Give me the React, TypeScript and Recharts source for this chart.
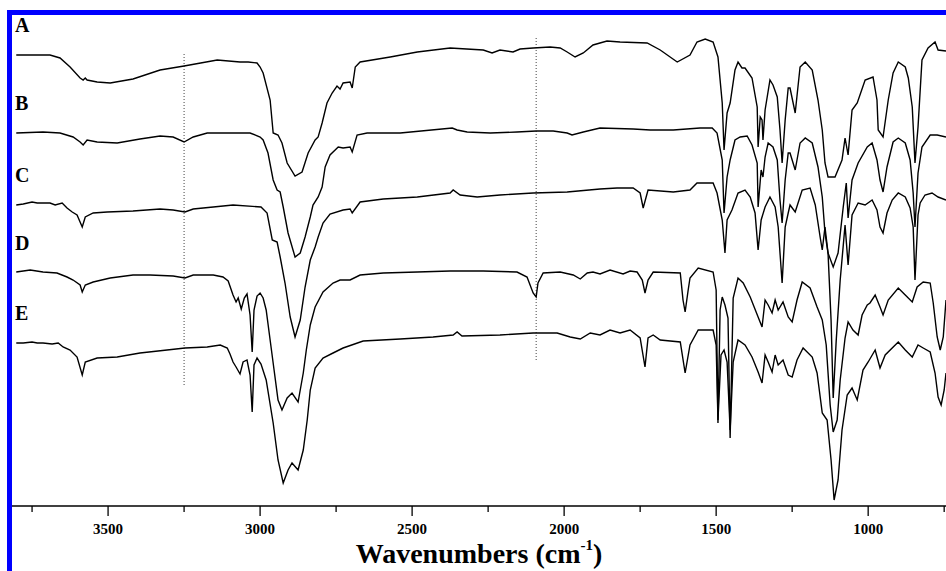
import React from "react";
import { LineChart, Line, XAxis, YAxis, ReferenceLine } from "recharts";

// FTIR spectra, stacked (offset transmittance, arbitrary units)
// each point: [wavenumber cm-1, offset transmittance]
const traceA: [number, number][] = [
  [3802, 451], [3691, 451], [3658, 448], [3625, 439], [3592, 428], [3582, 426], [3575, 428], [3569, 426],
  [3536, 424], [3493, 423], [3418, 427], [3329, 436], [3250, 440], [3141, 446], [3066, 444], [3039, 444],
  [3010, 443], [3000, 439], [2990, 433], [2967, 406], [2957, 373], [2941, 371], [2928, 363], [2911, 343],
  [2885, 330], [2862, 334], [2842, 353], [2819, 366], [2809, 369], [2796, 383], [2780, 403], [2763, 413],
  [2747, 420], [2737, 417], [2727, 423], [2704, 424], [2697, 418], [2687, 439], [2671, 444], [2572, 449],
  [2483, 454], [2375, 458], [2266, 456], [2237, 453], [2211, 456], [2168, 454], [2145, 457], [2102, 458],
  [2046, 459], [2013, 458], [1990, 454], [1964, 449], [1937, 453], [1905, 461], [1859, 465], [1816, 464],
  [1727, 463], [1684, 456], [1628, 444], [1586, 451], [1563, 464], [1536, 467], [1510, 464], [1494, 449],
  [1480, 403], [1474, 356], [1464, 393], [1454, 403], [1438, 436], [1428, 444], [1415, 438], [1405, 438],
  [1382, 428], [1365, 399], [1362, 359], [1355, 389], [1349, 386], [1346, 366], [1339, 396], [1323, 426],
  [1313, 421], [1299, 409], [1290, 376], [1283, 343], [1273, 386], [1263, 418], [1257, 418], [1240, 393],
  [1224, 439], [1207, 444], [1184, 436], [1165, 406], [1151, 376], [1142, 343], [1132, 329], [1109, 329],
  [1086, 346], [1076, 368], [1066, 351], [1053, 396], [1036, 403], [1010, 426], [984, 429], [971, 406],
  [967, 376], [951, 369], [934, 406], [918, 433], [901, 444], [878, 439], [868, 428], [855, 399],
  [846, 343], [836, 379], [823, 446], [803, 458], [780, 464], [770, 456], [744, 455],
];

const traceB: [number, number][] = [
  [3802, 373], [3714, 374], [3658, 373], [3615, 369], [3592, 364], [3582, 361], [3569, 366], [3536, 364],
  [3470, 363], [3395, 367], [3329, 370], [3286, 369], [3250, 364], [3220, 369], [3174, 373], [3033, 373],
  [3000, 369], [2990, 366], [2974, 353], [2957, 326], [2944, 316], [2934, 314], [2924, 299], [2908, 273],
  [2885, 249], [2868, 253], [2852, 269], [2835, 289], [2826, 301], [2809, 309], [2796, 319], [2786, 339],
  [2770, 351], [2743, 359], [2727, 358], [2704, 359], [2697, 354], [2681, 371], [2648, 373], [2539, 373],
  [2368, 378], [2352, 376], [2319, 374], [2243, 373], [2155, 374], [2092, 375], [2036, 375], [1990, 373],
  [1974, 371], [1937, 374], [1882, 378], [1773, 377], [1717, 376], [1641, 376], [1553, 378], [1513, 378],
  [1497, 373], [1480, 346], [1474, 293], [1464, 329], [1454, 346], [1438, 366], [1421, 369], [1398, 370],
  [1382, 361], [1365, 343], [1362, 299], [1352, 336], [1346, 329], [1339, 349], [1329, 363], [1313, 359],
  [1299, 346], [1290, 306], [1283, 283], [1273, 326], [1263, 353], [1257, 353], [1240, 336], [1224, 363],
  [1207, 368], [1184, 363], [1165, 339], [1151, 309], [1142, 273], [1132, 253], [1115, 239], [1099, 253],
  [1082, 299], [1072, 323], [1066, 288], [1053, 326], [1033, 343], [1003, 359], [987, 363], [971, 346],
  [961, 326], [951, 314], [938, 339], [918, 364], [901, 368], [878, 363], [862, 346], [852, 313],
  [846, 279], [836, 333], [823, 359], [796, 371], [773, 371], [744, 369],
];

const traceC: [number, number][] = [
  [3802, 301], [3779, 302], [3750, 304], [3733, 303], [3714, 303], [3691, 303], [3674, 301], [3651, 303],
  [3635, 298], [3618, 294], [3602, 291], [3585, 279], [3575, 289], [3549, 293], [3503, 294], [3418, 295],
  [3329, 297], [3286, 296], [3247, 294], [3220, 297], [3154, 299], [3089, 301], [2997, 299], [2977, 293],
  [2960, 266], [2944, 264], [2934, 249], [2918, 223], [2901, 189], [2885, 169], [2868, 186], [2852, 219],
  [2835, 246], [2819, 259], [2809, 269], [2793, 283], [2770, 292], [2727, 296], [2704, 297], [2697, 293],
  [2671, 304], [2595, 307], [2483, 309], [2375, 313], [2365, 316], [2342, 311], [2286, 309], [2211, 311],
  [2102, 313], [1990, 314], [1882, 317], [1826, 318], [1773, 318], [1750, 313], [1740, 298], [1724, 316],
  [1641, 314], [1586, 316], [1563, 323], [1510, 323], [1497, 313], [1480, 286], [1471, 253], [1464, 286],
  [1448, 296], [1428, 313], [1405, 316], [1388, 309], [1372, 293], [1362, 256], [1352, 286], [1339, 299],
  [1323, 309], [1306, 299], [1296, 279], [1283, 223], [1273, 279], [1263, 293], [1257, 301], [1240, 294],
  [1217, 316], [1191, 318], [1174, 301], [1158, 269], [1151, 256], [1142, 279], [1132, 253], [1122, 186],
  [1115, 108], [1105, 166], [1092, 226], [1076, 281], [1066, 241], [1053, 291], [1033, 303], [1010, 301],
  [987, 306], [971, 296], [961, 279], [951, 273], [938, 293], [921, 306], [901, 313], [878, 309],
  [862, 298], [852, 279], [846, 226], [836, 291], [829, 303], [813, 311], [790, 313], [770, 309], [744, 306],
];

const traceD: [number, number][] = [
  [3802, 234], [3756, 236], [3714, 234], [3668, 233], [3635, 229], [3615, 226], [3592, 221], [3585, 214],
  [3575, 221], [3549, 224], [3493, 228], [3418, 231], [3362, 231], [3286, 230], [3247, 228], [3220, 231],
  [3154, 231], [3122, 229], [3105, 225], [3089, 211], [3079, 204], [3072, 208], [3062, 197], [3052, 208],
  [3043, 212], [3033, 191], [3026, 154], [3020, 196], [3010, 210], [3000, 213], [2990, 208], [2980, 196],
  [2967, 166], [2954, 136], [2941, 106], [2928, 96], [2911, 108], [2895, 113], [2875, 104], [2858, 133],
  [2848, 156], [2835, 181], [2819, 199], [2793, 214], [2760, 223], [2737, 226], [2704, 226], [2671, 231],
  [2595, 233], [2483, 234], [2375, 235], [2266, 235], [2155, 234], [2122, 229], [2102, 213], [2092, 209],
  [2086, 223], [2069, 233], [2013, 234], [1970, 231], [1947, 227], [1924, 233], [1905, 234], [1882, 232],
  [1849, 236], [1806, 232], [1783, 235], [1760, 234], [1743, 226], [1734, 213], [1724, 226], [1707, 234],
  [1618, 233], [1609, 206], [1602, 194], [1592, 216], [1586, 228], [1559, 238], [1510, 234], [1500, 216],
  [1494, 83], [1487, 196], [1480, 209], [1471, 201], [1461, 188], [1454, 68], [1444, 208], [1428, 228],
  [1411, 223], [1388, 209], [1362, 189], [1349, 179], [1339, 206], [1329, 201], [1316, 193], [1306, 206],
  [1296, 196], [1280, 204], [1263, 189], [1250, 184], [1234, 206], [1217, 224], [1191, 218], [1168, 199],
  [1151, 186], [1138, 161], [1125, 101], [1115, 74], [1102, 86], [1092, 126], [1076, 168], [1066, 184],
  [1050, 176], [1033, 171], [1020, 191], [1003, 201], [994, 203], [977, 211], [961, 199], [951, 191],
  [934, 206], [901, 218], [878, 211], [855, 204], [839, 219], [819, 224], [796, 223], [786, 203],
  [773, 169], [763, 156], [753, 169], [744, 206],
];

const traceE: [number, number][] = [
  [3802, 163], [3779, 163], [3750, 164], [3733, 163], [3714, 163], [3684, 162], [3664, 163], [3648, 159],
  [3625, 156], [3602, 149], [3585, 131], [3575, 144], [3536, 148], [3470, 149], [3395, 153], [3306, 156],
  [3247, 158], [3174, 159], [3131, 161], [3108, 158], [3099, 152], [3089, 144], [3079, 139], [3066, 132],
  [3056, 144], [3043, 146], [3033, 131], [3026, 94], [3020, 141], [3010, 148], [2997, 142], [2980, 126],
  [2957, 83], [2941, 46], [2924, 23], [2908, 36], [2895, 43], [2875, 36], [2858, 56], [2845, 86],
  [2835, 116], [2819, 138], [2793, 148], [2760, 153], [2727, 158], [2661, 165], [2539, 167], [2431, 169],
  [2365, 171], [2352, 174], [2336, 170], [2211, 171], [2102, 173], [2023, 173], [1980, 169], [1947, 167],
  [1914, 173], [1882, 171], [1849, 176], [1816, 173], [1783, 176], [1750, 168], [1734, 139], [1724, 168],
  [1707, 171], [1684, 166], [1618, 164], [1602, 133], [1586, 161], [1559, 176], [1510, 176], [1500, 161],
  [1494, 86], [1484, 151], [1474, 156], [1464, 144], [1454, 76], [1444, 144], [1428, 166], [1405, 161],
  [1382, 149], [1362, 134], [1349, 123], [1339, 151], [1329, 144], [1316, 134], [1306, 151], [1296, 141],
  [1280, 146], [1263, 131], [1250, 129], [1234, 146], [1214, 158], [1184, 149], [1168, 133], [1151, 93],
  [1135, 86], [1122, 46], [1112, 6], [1099, 26], [1086, 76], [1069, 111], [1053, 118], [1036, 106],
  [1017, 136], [1000, 144], [977, 156], [961, 138], [944, 151], [901, 164], [878, 156], [855, 149],
  [836, 161], [819, 158], [796, 154], [780, 133], [770, 109], [760, 101], [750, 116], [744, 133],
];

const SERIES_NAMES = ["A", "B", "C", "D", "E"];
const SERIES = [traceA, traceB, traceC, traceD, traceE];
const LABEL_TOP = [15, 93, 165, 233, 303];

const TICKS = [3750, 3500, 3250, 3000, 2750, 2500, 2250, 2000, 1750, 1500, 1250, 1000, 750];
const MAJOR_TICKS = [3500, 3000, 2500, 2000, 1500, 1000];

// dotted guide lines: [wavenumber, from, to]
const GUIDES: [number, number, number][] = [
  [3250, 121, 454],
  [2092, 146, 469],
];

const FONT = '"Liberation Serif", "Times New Roman", serif';

function WaveTick(props: any) {
  const { x, y, payload } = props;
  const major = MAJOR_TICKS.includes(payload.value);
  return (
    <g>
      <line x1={x} x2={x} y1={y} y2={y + (major ? 10 : 6)} stroke="#000" strokeWidth={1.3} />
      {major && (
        <text x={x} y={y + 28} textAnchor="middle" fontFamily={FONT} fontWeight="bold" fontSize={15} fill="#000">
          {payload.value}
        </text>
      )}
    </g>
  );
}

function AxisTitle(props: any) {
  const vb = props.viewBox || { x: 12, y: 506, width: 934 };
  const cx = vb.x + vb.width / 2;
  return (
    <text x={cx} y={vb.y + 57} textAnchor="middle" fontFamily={FONT} fontWeight="bold" fontSize={28} fill="#000">
      Wavenumbers (cm
      <tspan fontSize={15} dy={-13}>-1</tspan>
      <tspan dy={13}>)</tspan>
    </text>
  );
}

export default function App() {
  return (
    <div style={{ position: "absolute", left: 0, top: 0, width: 946, height: 571, background: "#fff", overflow: "hidden" }}>
      <div
        style={{
          position: "absolute",
          left: 7,
          top: 10,
          width: 960,
          height: 600,
          borderLeft: "5px solid #0000ff",
          borderTop: "5px solid #0000ff",
          boxSizing: "border-box",
        }}
      />
      <div style={{ position: "absolute", left: 0, top: 0 }}>
        <LineChart width={946} height={571} margin={{ top: 15, right: 0, left: 12, bottom: 0 }}>
          <XAxis
            type="number"
            dataKey="w"
            domain={[744, 3816]}
            reversed
            allowDataOverflow
            ticks={TICKS}
            interval={0}
            height={65}
            tickSize={0}
            tickMargin={0}
            tickLine={false}
            tick={<WaveTick />}
            axisLine={{ stroke: "#000", strokeWidth: 1.3 }}
            label={{ content: AxisTitle }}
          />
          <YAxis type="number" domain={[0, 491]} hide allowDataOverflow />
          {GUIDES.map(([w, y1, y2]) => (
            <ReferenceLine
              key={w}
              segment={[{ x: w, y: y1 }, { x: w, y: y2 }]}
              stroke="#444"
              strokeWidth={1}
              strokeDasharray="1 2"
            />
          ))}
          {SERIES.map((trace, i) => (
            <Line
              key={SERIES_NAMES[i]}
              data={trace.map(([w, v]) => ({ w, v }))}
              dataKey="v"
              type="linear"
              stroke="#000"
              strokeWidth={1.4}
              dot={false}
              isAnimationActive={false}
            />
          ))}
        </LineChart>
      </div>
      {SERIES_NAMES.map((name, i) => (
        <div
          key={name}
          style={{
            position: "absolute",
            left: 15,
            top: LABEL_TOP[i],
            fontFamily: FONT,
            fontWeight: "bold",
            fontSize: 20,
            lineHeight: "20px",
          }}
        >
          {name}
        </div>
      ))}
    </div>
  );
}
